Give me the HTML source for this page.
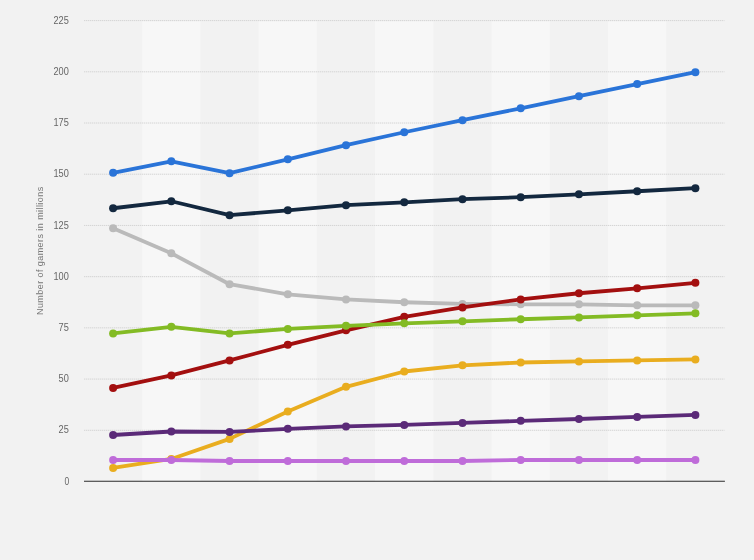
<!DOCTYPE html>
<html><head><meta charset="utf-8"><style>
html,body{margin:0;padding:0;background:#f2f2f2;}
body{width:754px;height:560px;overflow:hidden;font-family:"Liberation Sans",sans-serif;}
svg{display:block;will-change:transform;font-family:"Liberation Sans",sans-serif;}
</style></head><body>
<svg width="754" height="560" viewBox="0 0 754 560">
<rect width="754" height="560" fill="#f2f2f2"/>
<rect x="142.23" y="21.10" width="58.23" height="460.40" fill="#f7f7f7"/>
<rect x="258.68" y="21.10" width="58.23" height="460.40" fill="#f7f7f7"/>
<rect x="375.14" y="21.10" width="58.23" height="460.40" fill="#f7f7f7"/>
<rect x="491.59" y="21.10" width="58.23" height="460.40" fill="#f7f7f7"/>
<rect x="608.05" y="21.10" width="58.23" height="460.40" fill="#f7f7f7"/>
<line x1="84.0" y1="430.29" x2="724.5" y2="430.29" stroke="#d4d4d4" stroke-width="1" stroke-dasharray="1.33,0.67"/>
<text transform="translate(68.8,433.49) scale(0.92,1)" text-anchor="end" font-size="10" fill="#666">25</text>
<line x1="84.0" y1="379.08" x2="724.5" y2="379.08" stroke="#d4d4d4" stroke-width="1" stroke-dasharray="1.33,0.67"/>
<text transform="translate(68.8,382.28) scale(0.92,1)" text-anchor="end" font-size="10" fill="#666">50</text>
<line x1="84.0" y1="327.87" x2="724.5" y2="327.87" stroke="#d4d4d4" stroke-width="1" stroke-dasharray="1.33,0.67"/>
<text transform="translate(68.8,331.07) scale(0.92,1)" text-anchor="end" font-size="10" fill="#666">75</text>
<line x1="84.0" y1="276.66" x2="724.5" y2="276.66" stroke="#d4d4d4" stroke-width="1" stroke-dasharray="1.33,0.67"/>
<text transform="translate(68.8,279.86) scale(0.92,1)" text-anchor="end" font-size="10" fill="#666">100</text>
<line x1="84.0" y1="225.44" x2="724.5" y2="225.44" stroke="#d4d4d4" stroke-width="1" stroke-dasharray="1.33,0.67"/>
<text transform="translate(68.8,228.64) scale(0.92,1)" text-anchor="end" font-size="10" fill="#666">125</text>
<line x1="84.0" y1="174.23" x2="724.5" y2="174.23" stroke="#d4d4d4" stroke-width="1" stroke-dasharray="1.33,0.67"/>
<text transform="translate(68.8,177.43) scale(0.92,1)" text-anchor="end" font-size="10" fill="#666">150</text>
<line x1="84.0" y1="123.02" x2="724.5" y2="123.02" stroke="#d4d4d4" stroke-width="1" stroke-dasharray="1.33,0.67"/>
<text transform="translate(68.8,126.22) scale(0.92,1)" text-anchor="end" font-size="10" fill="#666">175</text>
<line x1="84.0" y1="71.81" x2="724.5" y2="71.81" stroke="#d4d4d4" stroke-width="1" stroke-dasharray="1.33,0.67"/>
<text transform="translate(68.8,75.01) scale(0.92,1)" text-anchor="end" font-size="10" fill="#666">200</text>
<line x1="84.0" y1="20.60" x2="724.5" y2="20.60" stroke="#d4d4d4" stroke-width="1" stroke-dasharray="1.33,0.67"/>
<text transform="translate(68.8,23.80) scale(0.92,1)" text-anchor="end" font-size="10" fill="#666">225</text>
<text transform="translate(69.2,484.70) scale(0.85,1)" text-anchor="end" font-size="10" fill="#666">0</text>
<line x1="84.0" y1="481.2" x2="724.9" y2="481.2" stroke="#2b2b2b" stroke-width="1.1"/>
<text transform="translate(43,250.7) rotate(-90)" text-anchor="middle" font-size="9" letter-spacing="0.43" fill="#777">Number of gamers in millions</text>
<polyline points="113.10,228.31 171.33,253.30 229.56,284.23 287.79,294.27 346.02,299.39 404.25,302.26 462.48,303.90 520.71,304.31 578.94,304.31 637.17,305.33 695.40,305.33" fill="none" stroke="#bababa" stroke-width="3.8" stroke-linejoin="round" stroke-linecap="round"/>
<circle cx="113.10" cy="228.31" r="4" fill="#bababa"/>
<circle cx="171.33" cy="253.30" r="4" fill="#bababa"/>
<circle cx="229.56" cy="284.23" r="4" fill="#bababa"/>
<circle cx="287.79" cy="294.27" r="4" fill="#bababa"/>
<circle cx="346.02" cy="299.39" r="4" fill="#bababa"/>
<circle cx="404.25" cy="302.26" r="4" fill="#bababa"/>
<circle cx="462.48" cy="303.90" r="4" fill="#bababa"/>
<circle cx="520.71" cy="304.31" r="4" fill="#bababa"/>
<circle cx="578.94" cy="304.31" r="4" fill="#bababa"/>
<circle cx="637.17" cy="305.33" r="4" fill="#bababa"/>
<circle cx="695.40" cy="305.33" r="4" fill="#bababa"/>
<polyline points="113.10,387.89 171.33,375.39 229.56,360.44 287.79,344.87 346.02,330.32 404.25,316.81 462.48,307.38 520.71,299.39 578.94,293.25 637.17,288.33 695.40,282.80" fill="none" stroke="#a30f0f" stroke-width="3.8" stroke-linejoin="round" stroke-linecap="round"/>
<circle cx="113.10" cy="387.89" r="4" fill="#a30f0f"/>
<circle cx="171.33" cy="375.39" r="4" fill="#a30f0f"/>
<circle cx="229.56" cy="360.44" r="4" fill="#a30f0f"/>
<circle cx="287.79" cy="344.87" r="4" fill="#a30f0f"/>
<circle cx="346.02" cy="330.32" r="4" fill="#a30f0f"/>
<circle cx="404.25" cy="316.81" r="4" fill="#a30f0f"/>
<circle cx="462.48" cy="307.38" r="4" fill="#a30f0f"/>
<circle cx="520.71" cy="299.39" r="4" fill="#a30f0f"/>
<circle cx="578.94" cy="293.25" r="4" fill="#a30f0f"/>
<circle cx="637.17" cy="288.33" r="4" fill="#a30f0f"/>
<circle cx="695.40" cy="282.80" r="4" fill="#a30f0f"/>
<polyline points="113.10,333.40 171.33,326.84 229.56,333.40 287.79,328.89 346.02,325.82 404.25,323.36 462.48,321.31 520.71,319.26 578.94,317.42 637.17,315.37 695.40,313.32" fill="none" stroke="#83bb24" stroke-width="3.8" stroke-linejoin="round" stroke-linecap="round"/>
<circle cx="113.10" cy="333.40" r="4" fill="#83bb24"/>
<circle cx="171.33" cy="326.84" r="4" fill="#83bb24"/>
<circle cx="229.56" cy="333.40" r="4" fill="#83bb24"/>
<circle cx="287.79" cy="328.89" r="4" fill="#83bb24"/>
<circle cx="346.02" cy="325.82" r="4" fill="#83bb24"/>
<circle cx="404.25" cy="323.36" r="4" fill="#83bb24"/>
<circle cx="462.48" cy="321.31" r="4" fill="#83bb24"/>
<circle cx="520.71" cy="319.26" r="4" fill="#83bb24"/>
<circle cx="578.94" cy="317.42" r="4" fill="#83bb24"/>
<circle cx="637.17" cy="315.37" r="4" fill="#83bb24"/>
<circle cx="695.40" cy="313.32" r="4" fill="#83bb24"/>
<polyline points="113.10,467.98 171.33,458.97 229.56,438.89 287.79,411.44 346.02,386.86 404.25,371.50 462.48,365.35 520.71,362.49 578.94,361.46 637.17,360.44 695.40,359.41" fill="none" stroke="#e9ad1f" stroke-width="3.8" stroke-linejoin="round" stroke-linecap="round"/>
<circle cx="113.10" cy="467.98" r="4" fill="#e9ad1f"/>
<circle cx="171.33" cy="458.97" r="4" fill="#e9ad1f"/>
<circle cx="229.56" cy="438.89" r="4" fill="#e9ad1f"/>
<circle cx="287.79" cy="411.44" r="4" fill="#e9ad1f"/>
<circle cx="346.02" cy="386.86" r="4" fill="#e9ad1f"/>
<circle cx="404.25" cy="371.50" r="4" fill="#e9ad1f"/>
<circle cx="462.48" cy="365.35" r="4" fill="#e9ad1f"/>
<circle cx="520.71" cy="362.49" r="4" fill="#e9ad1f"/>
<circle cx="578.94" cy="361.46" r="4" fill="#e9ad1f"/>
<circle cx="637.17" cy="360.44" r="4" fill="#e9ad1f"/>
<circle cx="695.40" cy="359.41" r="4" fill="#e9ad1f"/>
<polyline points="113.10,435.00 171.33,431.52 229.56,431.93 287.79,428.85 346.02,426.40 404.25,424.96 462.48,422.91 520.71,420.87 578.94,419.02 637.17,416.97 695.40,414.93" fill="none" stroke="#5b2a78" stroke-width="3.8" stroke-linejoin="round" stroke-linecap="round"/>
<circle cx="113.10" cy="435.00" r="4" fill="#5b2a78"/>
<circle cx="171.33" cy="431.52" r="4" fill="#5b2a78"/>
<circle cx="229.56" cy="431.93" r="4" fill="#5b2a78"/>
<circle cx="287.79" cy="428.85" r="4" fill="#5b2a78"/>
<circle cx="346.02" cy="426.40" r="4" fill="#5b2a78"/>
<circle cx="404.25" cy="424.96" r="4" fill="#5b2a78"/>
<circle cx="462.48" cy="422.91" r="4" fill="#5b2a78"/>
<circle cx="520.71" cy="420.87" r="4" fill="#5b2a78"/>
<circle cx="578.94" cy="419.02" r="4" fill="#5b2a78"/>
<circle cx="637.17" cy="416.97" r="4" fill="#5b2a78"/>
<circle cx="695.40" cy="414.93" r="4" fill="#5b2a78"/>
<polyline points="113.10,459.99 171.33,459.99 229.56,461.02 287.79,461.02 346.02,461.02 404.25,461.02 462.48,461.02 520.71,459.99 578.94,459.99 637.17,459.99 695.40,459.99" fill="none" stroke="#bf6cd9" stroke-width="3.8" stroke-linejoin="round" stroke-linecap="round"/>
<circle cx="113.10" cy="459.99" r="4" fill="#bf6cd9"/>
<circle cx="171.33" cy="459.99" r="4" fill="#bf6cd9"/>
<circle cx="229.56" cy="461.02" r="4" fill="#bf6cd9"/>
<circle cx="287.79" cy="461.02" r="4" fill="#bf6cd9"/>
<circle cx="346.02" cy="461.02" r="4" fill="#bf6cd9"/>
<circle cx="404.25" cy="461.02" r="4" fill="#bf6cd9"/>
<circle cx="462.48" cy="461.02" r="4" fill="#bf6cd9"/>
<circle cx="520.71" cy="459.99" r="4" fill="#bf6cd9"/>
<circle cx="578.94" cy="459.99" r="4" fill="#bf6cd9"/>
<circle cx="637.17" cy="459.99" r="4" fill="#bf6cd9"/>
<circle cx="695.40" cy="459.99" r="4" fill="#bf6cd9"/>
<polyline points="113.10,208.24 171.33,201.27 229.56,215.20 287.79,210.29 346.02,205.16 404.25,202.30 462.48,199.22 520.71,197.18 578.94,194.31 637.17,191.24 695.40,188.16" fill="none" stroke="#13283f" stroke-width="3.8" stroke-linejoin="round" stroke-linecap="round"/>
<circle cx="113.10" cy="208.24" r="4" fill="#13283f"/>
<circle cx="171.33" cy="201.27" r="4" fill="#13283f"/>
<circle cx="229.56" cy="215.20" r="4" fill="#13283f"/>
<circle cx="287.79" cy="210.29" r="4" fill="#13283f"/>
<circle cx="346.02" cy="205.16" r="4" fill="#13283f"/>
<circle cx="404.25" cy="202.30" r="4" fill="#13283f"/>
<circle cx="462.48" cy="199.22" r="4" fill="#13283f"/>
<circle cx="520.71" cy="197.18" r="4" fill="#13283f"/>
<circle cx="578.94" cy="194.31" r="4" fill="#13283f"/>
<circle cx="637.17" cy="191.24" r="4" fill="#13283f"/>
<circle cx="695.40" cy="188.16" r="4" fill="#13283f"/>
<polyline points="113.10,172.80 171.33,161.33 229.56,173.21 287.79,159.28 346.02,145.15 404.25,132.24 462.48,120.15 520.71,108.27 578.94,96.19 637.17,84.10 695.40,72.22" fill="none" stroke="#2a74d8" stroke-width="3.8" stroke-linejoin="round" stroke-linecap="round"/>
<circle cx="113.10" cy="172.80" r="4" fill="#2a74d8"/>
<circle cx="171.33" cy="161.33" r="4" fill="#2a74d8"/>
<circle cx="229.56" cy="173.21" r="4" fill="#2a74d8"/>
<circle cx="287.79" cy="159.28" r="4" fill="#2a74d8"/>
<circle cx="346.02" cy="145.15" r="4" fill="#2a74d8"/>
<circle cx="404.25" cy="132.24" r="4" fill="#2a74d8"/>
<circle cx="462.48" cy="120.15" r="4" fill="#2a74d8"/>
<circle cx="520.71" cy="108.27" r="4" fill="#2a74d8"/>
<circle cx="578.94" cy="96.19" r="4" fill="#2a74d8"/>
<circle cx="637.17" cy="84.10" r="4" fill="#2a74d8"/>
<circle cx="695.40" cy="72.22" r="4" fill="#2a74d8"/>
</svg>
</body></html>
